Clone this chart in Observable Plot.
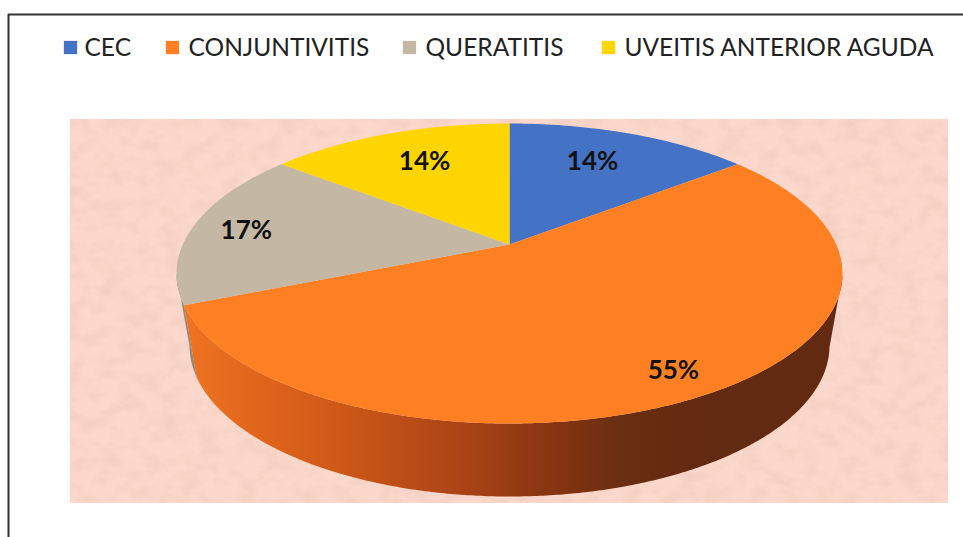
<!DOCTYPE html>
<html>
<head>
<meta charset="utf-8">
<script src="https://cdn.jsdelivr.net/npm/d3@7"></script>
<script src="https://cdn.jsdelivr.net/npm/@observablehq/plot@0.6"></script>
<style>
html,body{margin:0;padding:0;background:#fff;overflow:hidden}
svg{display:block}
</style>
</head>
<body>
<svg width="0" height="0" style="position:absolute">
  <defs>
    <linearGradient id="wallGrad" gradientUnits="userSpaceOnUse" x1="190" x2="700" y1="0" y2="0"></linearGradient>
  </defs>
  <filter id="mottle" x="0" y="0" width="100%" height="100%">
    <feTurbulence type="fractalNoise" baseFrequency="0.05 0.07" numOctaves="4" seed="7" result="n"/>
    <feColorMatrix in="n" type="matrix" values="0 0 0 0 0.90  0 0 0 0 0.62  0 0 0 0 0.54  2.4 0 0 0 -1.0" result="dark"/>
    <feComposite in="dark" in2="SourceGraphic" operator="in" result="patch"/>
    <feMerge><feMergeNode in="SourceGraphic"/><feMergeNode in="patch"/></feMerge>
  </filter>
</svg>
<div id="chart"></div>
<script>
// ---- data ----
const categories = ["CEC", "CONJUNTIVITIS", "QUERATITIS", "UVEITIS ANTERIOR AGUDA"];
const percents = [14, 55, 17, 14];
const sliceColors = ["#4472C4", "#FF8023", "#C4B8A5", "#FFD500"];
const labelRadius = [0.715, 0.857, 0.829, 0.717];
const labelTurnDeg = [-1.6, 0.5, -1.6, 1.1];

// ---- layout of the legend and the picture ----
const legendSwatchX = [62, 164, 401, 600];
const legendTextX = [84, 188, 425, 624];
const legendY = 47;
const W = 963, H = 537;
const top3d = {cx: 509, cy: 273, rx: 333, ry: 150};
const bottom3d = {cx: 509, cy: 345, rx: 320, ry: 151};
const rimTilt = 0.17, apexTilt = 0.193; // perspective shift of the pie
const shadeStops = [[190, "#EE7220"], [260, "#E0651C"], [330, "#D05A18"], [460, "#AB4416"], [560, "#843312"], [620, "#6A2E11"], [700, "#622A10"]];
const beigeWall = "#8F8A7E";

const grad = document.getElementById("wallGrad");
for (const [px, c] of shadeStops) {
  const stop = document.createElementNS("http://www.w3.org/2000/svg", "stop");
  stop.setAttribute("offset", (px - 190) / (700 - 190));
  stop.setAttribute("stop-color", c);
  grad.append(stop);
}

// A point of the circular pie (radius r, angle t clockwise from the top), seen in perspective
function project(e, t, r = 1, tilt = rimTilt) {
  const u = r * Math.sin(t), v = r * Math.cos(t);
  const d = 1 + tilt * v;
  return {
    x: e.cx + e.rx * u * Math.sqrt(1 - tilt * tilt) / d,
    y: e.cy - e.ry * (v + tilt) / d
  };
}

const total = d3.sum(percents);
const slices = [];
let acc = 0;
percents.forEach((p, i) => {
  const a0 = acc / total * 2 * Math.PI;
  acc += p;
  slices.push({i, name: categories[i], p, a0, a1: acc / total * 2 * Math.PI});
});

const STEP = Math.PI / 360;
function angles(s) {
  const out = [];
  for (let t = s.a0; t < s.a1; t += STEP) out.push(t);
  out.push(s.a1);
  return out;
}

const topVertices = [];
for (const s of slices) {
  topVertices.push({...project(top3d, 0, 0, apexTilt), id: s.i, color: sliceColors[s.i]});
  for (const t of angles(s)) topVertices.push({...project(top3d, t), id: s.i, color: sliceColors[s.i]});
}

// The wall of a slice, only the part that faces the viewer (between the pie's widest points)
const allAngles = angles({a0: 0, a1: 2 * Math.PI});
const rightmost = d3.greatest(allAngles, t => project(top3d, t).x);
const leftmost = d3.least(allAngles, t => project(top3d, t).x);
function wall(s) {
  const ts = angles(s).filter(t => t >= rightmost && t <= leftmost);
  return [...ts.map(t => project(top3d, t)), ...ts.slice().reverse().map(t => project(bottom3d, t))];
}

const labels = slices.map(s => ({
  ...project(top3d, (s.a0 + s.a1) / 2 + labelTurnDeg[s.i] * Math.PI / 180, labelRadius[s.i], apexTilt),
  text: s.p + "%"
}));
const legendRows = categories.map((name, i) => ({
  name, color: sliceColors[i], sx: legendSwatchX[i], tx: legendTextX[i], y: legendY
}));

const chart = Plot.plot({
  width: W, height: H,
  margin: 0,
  x: {domain: [0, W], range: [0, W], axis: null},
  y: {domain: [0, H], range: [0, H], axis: null},
  style: {background: "#fff"},
  marks: [
    // picture background
    Plot.rect([{x1: 70, x2: 948, y1: 119, y2: 503}], {
      x1: "x1", x2: "x2", y1: "y1", y2: "y2", fill: "#FBD8CB", imageFilter: "url(#mottle)"
    }),
    // frame
    Plot.ruleX([8], {y1: 14, y2: H, stroke: "#333", strokeWidth: 2}),
    Plot.ruleY([14], {x1: 8, x2: W, stroke: "#333", strokeWidth: 2}),
    // wall, then top of the pie
    Plot.line(wall(slices[2]), {x: "x", y: "y", fill: beigeWall, stroke: "none", curve: "linear-closed"}),
    Plot.line(wall(slices[1]), {x: "x", y: "y", fill: "url(#wallGrad)", stroke: "none", curve: "linear-closed"}),
    Plot.line(topVertices, {x: "x", y: "y", z: "id", fill: "color", stroke: "none", curve: "linear-closed"}),
    // labels
    Plot.text(labels, {x: "x", y: "y", dy: 1, text: "text", fontFamily: "Lato", fontWeight: 700, fontSize: 26, fill: "#111"}),
    // legend
    Plot.dot(legendRows, {x: d => d.sx + 8, y: "y", symbol: "square", r: 7.5, fill: "color", stroke: "none"}),
    Plot.text(legendRows, {x: "tx", y: "y", dy: 1, text: "name", textAnchor: "start", fontFamily: "Lato", fontSize: 24.5, fill: "#222"})
  ]
});
document.getElementById("chart").append(chart);
</script>
</body>
</html>
